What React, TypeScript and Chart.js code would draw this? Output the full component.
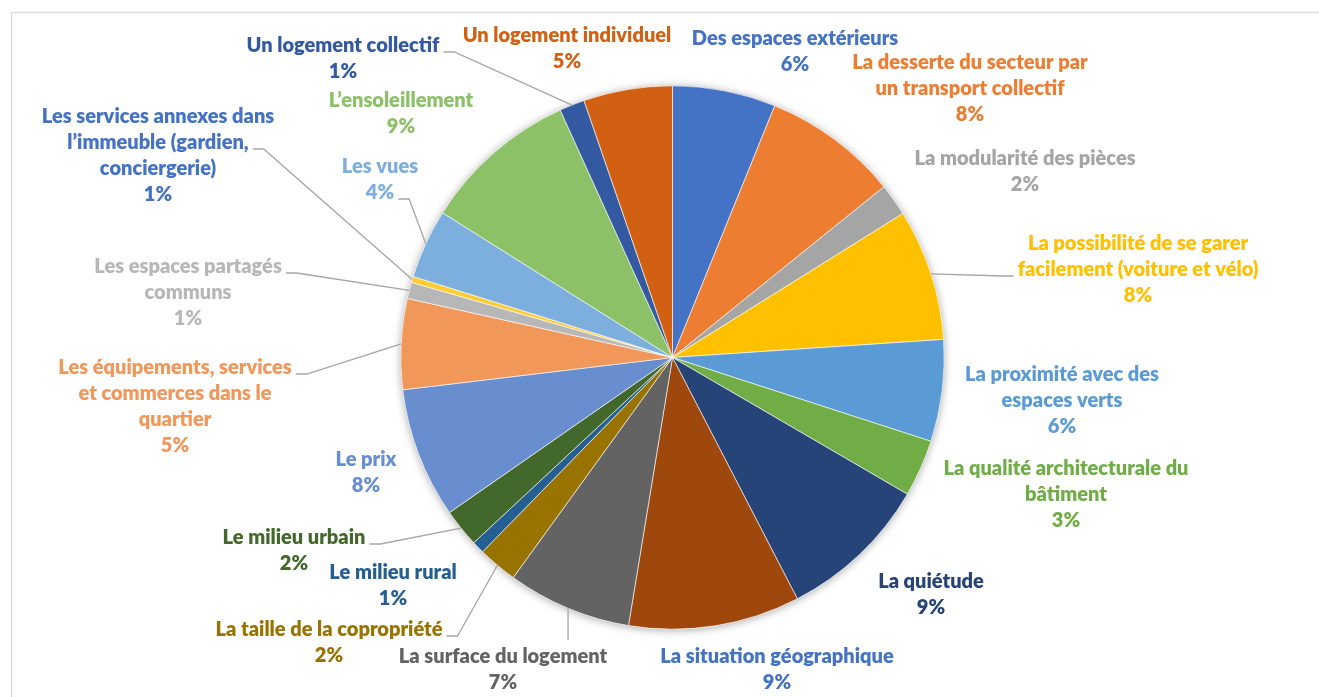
import React, { useEffect, useRef } from "react";
import { Chart, registerables } from "chart.js";

Chart.register(...registerables);

// ---- data ----
const categories: string[][] = [
  ["Des espaces extérieurs"],
  ["La desserte du secteur par", "un transport collectif"],
  ["La modularité des pièces"],
  ["La possibilité de se garer", "facilement (voiture et vélo)"],
  ["La proximité avec des", "espaces verts"],
  ["La qualité architecturale du", "bâtiment"],
  ["La quiétude"],
  ["La situation géographique"],
  ["La surface du logement"],
  ["La taille de la copropriété"],
  ["Le milieu rural"],
  ["Le milieu urbain"],
  ["Le prix"],
  ["Les équipements, services", "et commerces dans le", "quartier"],
  ["Les espaces partagés", "communs"],
  ["Les services annexes dans", "l’immeuble (gardien,", "conciergerie)"],
  ["Les vues"],
  ["L’ensoleillement"],
  ["Un logement collectif"],
  ["Un logement individuel"],
];

const shares: number[] = [
  6.14, 8.05, 1.92, 7.83, 6.05, 3.4, 9.01, 10.19, 7.38, 2.35, 0.74, 2.27, 7.77,
  5.39, 0.97, 0.36, 4.12, 9.28, 1.5, 5.28,
];

const shownPercent: string[] = [
  "6%", "8%", "2%", "8%", "6%", "3%", "9%", "9%", "7%", "2%", "1%", "2%", "8%",
  "5%", "1%", "1%", "4%", "9%", "1%", "5%",
];

// ---- styles ----
const sliceColors = [
  "#4472C4", "#ED7D31", "#A5A5A5", "#FFC000", "#5B9BD5", "#70AD47",
  "#264478", "#9E480E", "#636363", "#997300", "#255E91", "#43682B",
  "#698ED0", "#F1975A", "#B7B7B7", "#FFCD33", "#7CAFDD", "#8CC168",
  "#335AA1", "#D26012",
];

const labelColors = [
  "#4472C4", "#ED7D31", "#A5A5A5", "#FFC000", "#5B9BD5", "#70AD47",
  "#264478", "#4472C4", "#636363", "#997300", "#255E91", "#43682B",
  "#698ED0", "#F1975A", "#B7B7B7", "#4472C4", "#7CAFDD", "#8CC168",
  "#335AA1", "#D26012",
];

// label layout: centre of first text line
const labelAnchors: [number, number][] = [
  [795, 39], [970, 63], [1025, 159], [1138, 244], [1062, 375], [1066, 469],
  [931, 582], [777, 657], [503, 657], [329, 630], [393, 573], [294, 538],
  [366, 460], [175, 368], [188, 267], [158, 117], [380, 167], [401, 101],
  [343, 46], [567, 36],
];

type Leader = { line?: number; side: "left" | "right" | "top" } | null;
const leaders: Leader[] = [
  null, null, null, { line: 1, side: "left" }, null, null, null, null,
  { side: "top" }, { line: 0, side: "right" }, null, { line: 0, side: "right" },
  null, { line: 0, side: "right" }, { line: 0, side: "right" },
  { line: 1, side: "right" }, { line: 1, side: "right" }, null,
  { line: 0, side: "right" }, null,
];

const FONT_SIZE = 20;
const LINE_H = 26;
const FONT = `800 ${FONT_SIZE}px Lato, "Open Sans", sans-serif`;

const framePlugin = {
  id: "frame",
  beforeDraw(chart: any) {
    const ctx = chart.ctx;
    ctx.save();
    ctx.fillStyle = "#ffffff";
    ctx.fillRect(0, 0, chart.width, chart.height);
    ctx.strokeStyle = "#D9D9D9";
    ctx.lineWidth = 1.3;
    ctx.strokeRect(11.5, 12.5, 3000, 3000);
    ctx.restore();
  },
  beforeDatasetsDraw(chart: any) {
    const meta = chart.getDatasetMeta(0);
    const a = meta.data[0];
    if (!a) return;
    const { x, y, outerRadius } = a.getProps(["x", "y", "outerRadius"], true);
    const ctx = chart.ctx;
    ctx.save();
    ctx.shadowColor = "rgba(0,0,0,0.35)";
    ctx.shadowBlur = 9;
    ctx.shadowOffsetY = 1;
    ctx.beginPath();
    ctx.arc(x, y, outerRadius, 0, Math.PI * 2);
    ctx.fillStyle = "#ffffff";
    ctx.fill();
    ctx.restore();
  },
};

const labelPlugin = {
  id: "outerLabels",
  afterDatasetsDraw(chart: any) {
    const ctx = chart.ctx;
    const meta = chart.getDatasetMeta(0);
    ctx.save();
    ctx.font = FONT;
    ctx.textAlign = "center";
    ctx.textBaseline = "middle";
    meta.data.forEach((arc: any, i: number) => {
      const { x, y, startAngle, endAngle, outerRadius } = arc.getProps(
        ["x", "y", "startAngle", "endAngle", "outerRadius"],
        true
      );
      const mid = (startAngle + endAngle) / 2;
      const px = x + Math.cos(mid) * outerRadius;
      const py = y + Math.sin(mid) * outerRadius;
      const lines = [...categories[i], shownPercent[i]];
      const [ax, ay] = labelAnchors[i];
      const spec = leaders[i];
      if (spec) {
        ctx.strokeStyle = "#A6A6A6";
        ctx.lineWidth = 1.3;
        ctx.beginPath();
        if (spec.side === "top") {
          const w = ctx.measureText(lines[0]).width;
          const kx = Math.max(ax - w / 2, Math.min(ax + w / 2, px));
          const ky = ay - 17;
          ctx.moveTo(kx, ky);
          ctx.lineTo(px, py);
        } else {
          const li = spec.line ?? 0;
          const w = ctx.measureText(lines[li]).width;
          const ly = ay + li * LINE_H + 6;
          if (spec.side === "right") {
            const kx = ax + w / 2 + 4;
            ctx.moveTo(kx, ly);
            ctx.lineTo(kx + 11, ly);
          } else {
            const kx = ax - w / 2 - 4;
            ctx.moveTo(kx, ly);
            ctx.lineTo(kx - 11, ly);
          }
          ctx.lineTo(px, py);
        }
        ctx.stroke();
      }
      ctx.fillStyle = labelColors[i];
      lines.forEach((t, k) => ctx.fillText(t, ax, ay + k * LINE_H));
    });
    ctx.restore();
  },
};

export default function App() {
  const ref = useRef<HTMLCanvasElement | null>(null);
  useEffect(() => {
    if (!ref.current) return;
    const chart = new Chart(ref.current, {
      type: "pie",
      data: {
        labels: categories.map((c) => c.join(" ")),
        datasets: [
          {
            data: shares,
            backgroundColor: sliceColors,
            borderColor: "#ffffff",
            borderWidth: 0.6,
          },
        ],
      },
      options: {
        animation: false,
        responsive: false,
        maintainAspectRatio: false,
        layout: { padding: { left: 400.5, right: 374.5, top: 85.5, bottom: 67.5 } },
        plugins: { legend: { display: false }, tooltip: { enabled: false } },
      },
      plugins: [framePlugin, labelPlugin],
    });
    return () => chart.destroy();
  }, []);
  return (
    <div
      style={{
        position: "fixed",
        left: 0,
        top: 0,
        width: 1319,
        height: 697,
        background: "#fff",
        overflow: "hidden",
      }}
    >
      <canvas ref={ref} width={1319} height={697} style={{ display: "block" }} />
    </div>
  );
}
